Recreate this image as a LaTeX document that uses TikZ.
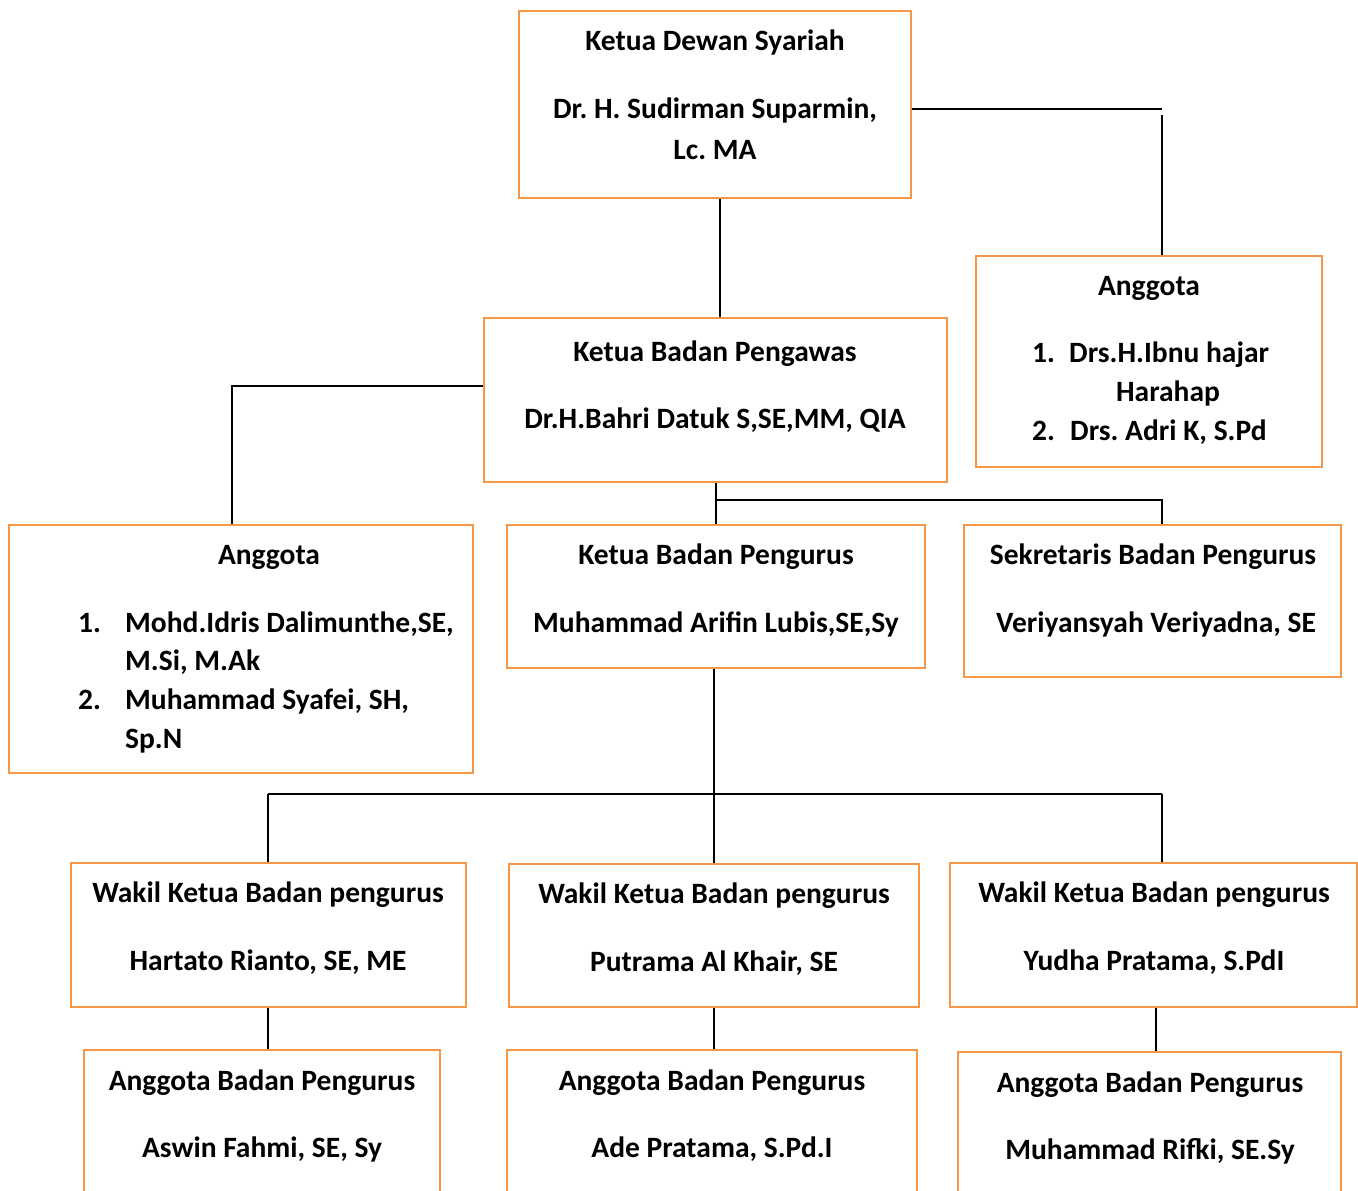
\documentclass[tikz,border=0pt]{standalone}
\usepackage{fontspec}
\setmainfont{Carlito}
\frenchspacing
\definecolor{boxorange}{HTML}{F79646}
\begin{document}
\begin{tikzpicture}[x=1pt,y=-1pt,
  box/.style={draw=boxorange,line width=2.9pt,rectangle,inner sep=0pt},
  lbl/.style={font=\fontsize{29.5}{34}\selectfont\bfseries\frenchspacing,inner sep=0pt,anchor=base},
  lbw/.style={lbl,anchor=base west},
  conn/.style={draw=black,line width=1.4pt}]
\useasboundingbox (0,0) rectangle (1358,1191);
\begin{scope}
\clip (0,0) rectangle (1358,1191);
% boxes
\node[box,minimum width=392pt,minimum height=187pt] (kds) at (715,104.5) {};
\node[box,minimum width=346pt,minimum height=211pt] (angR) at (1149,361.5) {};
\node[box,minimum width=463pt,minimum height=164pt] (kbp) at (715.5,400) {};
\node[box,minimum width=464pt,minimum height=248pt] (angL) at (241,649) {};
\node[box,minimum width=418pt,minimum height=143pt] (kbpg) at (716,596.5) {};
\node[box,minimum width=377pt,minimum height=152pt] (sek) at (1152.5,601) {};
\node[box,minimum width=395pt,minimum height=144pt] (w1) at (268.5,935) {};
\node[box,minimum width=410pt,minimum height=143pt] (w2) at (714,935.5) {};
\node[box,minimum width=407pt,minimum height=144pt] (w3) at (1153.5,935) {};
\node[box,minimum width=356pt,minimum height=180pt] (a1) at (262,1140) {};
\node[box,minimum width=410pt,minimum height=180pt] (a2) at (712,1140) {};
\node[box,minimum width=383pt,minimum height=180pt] (a3) at (1149.5,1142) {};
\end{scope}
% texts
\node[lbl] (t1a) at (715,50) {Ketua Dewan Syariah};
\node[lbl] (t1b) at (715,118) {Dr. H. Sudirman Suparmin,};
\node[lbl] (t1c) at (715,159) {Lc. MA};
\node[lbl] (t2a) at (1149,295) {Anggota};
\node[lbw] (t2n1) at (1032,362) {1.};
\node[lbw] (t2b) at (1069,362) {Drs.H.Ibnu hajar};
\node[lbl] (t2c) at (1168,401) {Harahap};
\node[lbw] (t2n2) at (1032,440) {2.};
\node[lbw] (t2d) at (1070,440) {Drs. Adri K, S.Pd};
\node[lbl] (t3a) at (715,361) {Ketua Badan Pengawas};
\node[lbl] (t3b) at (715,428) {Dr.H.Bahri Datuk S,SE,MM, QIA};
\node[lbl] (t4a) at (269,564) {Anggota};
\node[lbw] (t4n1) at (78,632) {1.};
\node[lbw] (t4b) at (125,632) {Mohd.Idris Dalimunthe,SE,};
\node[lbw] (t4c) at (125,670) {M.Si, M.Ak};
\node[lbw] (t4n2) at (78,709) {2.};
\node[lbw] (t4d) at (125,709) {Muhammad Syafei, SH,};
\node[lbw] (t4e) at (125,748) {Sp.N};
\node[lbl] (t5a) at (716,564) {Ketua Badan Pengurus};
\node[lbl] (t5b) at (716,632) {Muhammad Arifin Lubis,SE,Sy};
\node[lbl] (t6a) at (1153,564) {Sekretaris Badan Pengurus};
\node[lbl] (t6b) at (1156,632) {Veriyansyah Veriyadna, SE};
\node[lbl] (t7a) at (268,902) {Wakil Ketua Badan pengurus};
\node[lbl] (t7b) at (268,970) {Hartato Rianto, SE, ME};
\node[lbl] (t8a) at (714,903) {Wakil Ketua Badan pengurus};
\node[lbl] (t8b) at (714,971) {Putrama Al Khair, SE};
\node[lbl] (t9a) at (1154,902) {Wakil Ketua Badan pengurus};
\node[lbl] (t9b) at (1154,970) {Yudha Pratama, S.PdI};
\node[lbl] (t10a) at (262,1090) {Anggota Badan Pengurus};
\node[lbl] (t10b) at (262,1157) {Aswin Fahmi, SE, Sy};
\node[lbl] (t11a) at (712,1090) {Anggota Badan Pengurus};
\node[lbl] (t11b) at (712,1157) {Ade Pratama, S.Pd.I};
\node[lbl] (t12a) at (1150,1092) {Anggota Badan Pengurus};
\node[lbl] (t12b) at (1150,1159) {Muhammad Rifki, SE.Sy};
% connectors
\coordinate (c1) at (1162,109);
\coordinate (c2) at (232,386);
\coordinate (c3) at (716,500);
\coordinate (c4) at (1162,500);
\coordinate (c5) at (714,794);
\coordinate (c6) at (268,794);
\coordinate (c7) at (1162,794);
\draw[conn] (kds.east |- c1) -- (c1);
\draw[conn] (1162,115) -- (angR.north -| c1);
\draw[conn] (kds.south -| 720,0) -- (kbp.north -| 720,0);
\draw[conn] (kbp.west |- c2) -- (c2) -- (angL.north -| c2);
\draw[conn] (kbp.south -| c3) -- (kbpg.north -| c3);
\draw[conn] (c3) -- (c4) -- (sek.north -| c4);
\draw[conn] (kbpg.south -| c5) -- (w2.north -| c5);
\draw[conn] (c6) -- (c7);
\draw[conn] (c6) -- (w1.north -| c6);
\draw[conn] (c7) -- (w3.north -| c7);
\draw[conn] (w1.south -| 268,0) -- (a1.north -| 268,0);
\draw[conn] (w2.south -| 714,0) -- (a2.north -| 714,0);
\draw[conn] (w3.south -| 1156,0) -- (a3.north -| 1156,0);
\end{tikzpicture}
\end{document}
